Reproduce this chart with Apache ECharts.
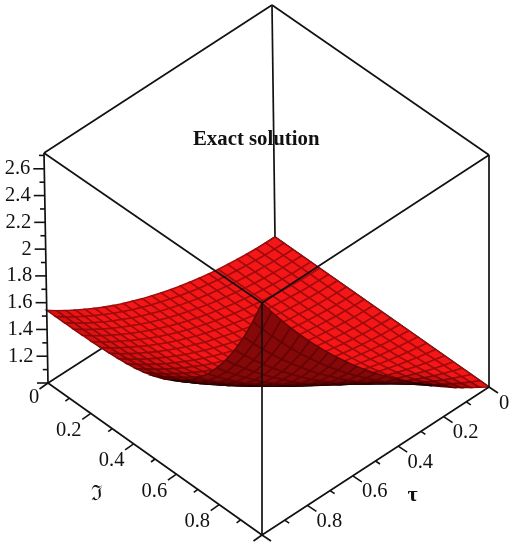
<!DOCTYPE html>
<html>
<head>
<meta charset="utf-8">
<title>Exact solution</title>
<script src="https://cdn.jsdelivr.net/npm/echarts@6/dist/echarts.min.js"></script>
<style>
  html, body { margin: 0; padding: 0; background: #fff; }
  #main { width: 518px; height: 550px; filter: blur(0.4px); }
</style>
</head>
<body>
<div id="main"></div>
<script>
// values, rows go along the frak I axis, columns along tau
const gridSteps = 24
const surfaceZ = [
  [1.000,1.001,1.003,1.008,1.014,1.022,1.031,1.043,1.056,1.071,1.088,1.107,1.128,1.151,1.175,1.202,1.230,1.261,1.295,1.330,1.368,1.408,1.450,1.495,1.543],
  [1.000,1.001,1.003,1.008,1.014,1.022,1.031,1.043,1.056,1.071,1.088,1.107,1.128,1.151,1.175,1.202,1.230,1.261,1.295,1.330,1.368,1.408,1.450,1.495,1.543],
  [1.000,1.001,1.003,1.008,1.014,1.022,1.031,1.043,1.056,1.071,1.088,1.107,1.128,1.151,1.175,1.202,1.230,1.261,1.295,1.330,1.368,1.408,1.450,1.495,1.543],
  [1.000,1.001,1.003,1.008,1.014,1.022,1.031,1.043,1.056,1.071,1.088,1.107,1.128,1.151,1.175,1.202,1.230,1.261,1.295,1.330,1.368,1.408,1.450,1.495,1.543],
  [1.000,1.001,1.003,1.008,1.014,1.022,1.031,1.043,1.056,1.071,1.088,1.107,1.128,1.151,1.175,1.203,1.231,1.262,1.296,1.331,1.369,1.409,1.451,1.496,1.544],
  [1.000,1.001,1.003,1.008,1.014,1.022,1.031,1.044,1.057,1.072,1.089,1.108,1.129,1.152,1.176,1.203,1.231,1.262,1.297,1.332,1.370,1.410,1.452,1.497,1.545],
  [1.000,1.001,1.003,1.008,1.015,1.023,1.032,1.044,1.057,1.072,1.090,1.109,1.130,1.153,1.177,1.205,1.233,1.264,1.298,1.333,1.372,1.412,1.454,1.499,1.548],
  [1.000,1.001,1.004,1.009,1.015,1.024,1.033,1.045,1.058,1.074,1.091,1.110,1.132,1.155,1.179,1.207,1.235,1.267,1.301,1.336,1.375,1.415,1.458,1.503,1.552],
  [1.000,1.002,1.004,1.010,1.016,1.025,1.034,1.047,1.060,1.076,1.093,1.113,1.134,1.158,1.183,1.210,1.239,1.271,1.305,1.341,1.380,1.420,1.463,1.509,1.558],
  [1.000,1.002,1.005,1.010,1.017,1.026,1.036,1.049,1.063,1.079,1.096,1.116,1.138,1.162,1.187,1.215,1.244,1.276,1.311,1.347,1.386,1.428,1.471,1.517,1.566],
  [1.000,1.002,1.006,1.012,1.019,1.028,1.039,1.052,1.066,1.083,1.101,1.121,1.144,1.168,1.194,1.222,1.252,1.284,1.320,1.356,1.396,1.438,1.482,1.529,1.578],
  [1.000,1.003,1.007,1.014,1.021,1.031,1.042,1.056,1.071,1.088,1.107,1.128,1.151,1.176,1.202,1.231,1.262,1.295,1.331,1.369,1.409,1.452,1.496,1.544,1.595],
  [1.000,1.004,1.008,1.016,1.025,1.035,1.047,1.062,1.077,1.095,1.115,1.137,1.161,1.187,1.214,1.244,1.275,1.309,1.346,1.385,1.426,1.470,1.516,1.565,1.617],
  [1.000,1.005,1.010,1.019,1.028,1.040,1.053,1.069,1.085,1.104,1.125,1.148,1.173,1.200,1.228,1.259,1.292,1.327,1.366,1.405,1.448,1.493,1.540,1.591,1.644],
  [1.000,1.006,1.013,1.022,1.033,1.046,1.060,1.077,1.095,1.115,1.138,1.162,1.188,1.217,1.246,1.279,1.313,1.350,1.390,1.432,1.476,1.523,1.572,1.624,1.679],
  [1.000,1.007,1.016,1.027,1.040,1.054,1.070,1.088,1.108,1.130,1.153,1.179,1.208,1.238,1.269,1.304,1.339,1.378,1.420,1.464,1.510,1.559,1.610,1.665,1.722],
  [1.000,1.009,1.020,1.033,1.047,1.063,1.081,1.101,1.123,1.147,1.173,1.201,1.231,1.263,1.297,1.334,1.372,1.413,1.457,1.503,1.552,1.604,1.658,1.715,1.775],
  [1.000,1.012,1.024,1.040,1.056,1.075,1.095,1.118,1.142,1.168,1.196,1.227,1.259,1.294,1.330,1.370,1.411,1.455,1.502,1.551,1.603,1.658,1.715,1.775,1.839],
  [1.000,1.014,1.029,1.048,1.067,1.088,1.111,1.137,1.163,1.193,1.224,1.257,1.293,1.331,1.370,1.413,1.457,1.504,1.555,1.607,1.663,1.722,1.782,1.847,1.915],
  [1.000,1.017,1.036,1.057,1.080,1.104,1.130,1.159,1.189,1.222,1.257,1.293,1.333,1.374,1.417,1.464,1.512,1.563,1.618,1.675,1.735,1.797,1.863,1.932,2.005],
  [1.000,1.021,1.043,1.068,1.095,1.123,1.153,1.186,1.220,1.256,1.295,1.336,1.379,1.425,1.473,1.523,1.576,1.632,1.692,1.753,1.818,1.886,1.957,2.031,2.110],
  [1.000,1.025,1.052,1.081,1.112,1.145,1.179,1.216,1.255,1.296,1.339,1.385,1.434,1.484,1.537,1.593,1.650,1.712,1.777,1.844,1.915,1.989,2.066,2.147,2.232],
  [1.000,1.030,1.062,1.096,1.132,1.170,1.209,1.252,1.296,1.342,1.391,1.442,1.496,1.552,1.611,1.673,1.736,1.804,1.876,1.949,2.027,2.108,2.192,2.280,2.373],
  [1.000,1.036,1.073,1.114,1.155,1.199,1.244,1.293,1.342,1.395,1.450,1.507,1.568,1.631,1.695,1.764,1.835,1.910,1.989,2.070,2.155,2.244,2.336,2.433,2.534],
  [1.000,1.043,1.087,1.133,1.181,1.232,1.284,1.339,1.396,1.455,1.517,1.582,1.649,1.719,1.792,1.868,1.948,2.031,2.117,2.207,2.301,2.399,2.501,2.607,2.718]
]

const zRange = [1, 2.718]
const zMajor = [1, 1.2, 1.4, 1.6, 1.8, 2, 2.2, 2.4, 2.6]
const zMinor = [1.1, 1.3, 1.5, 1.7, 1.9, 2.1, 2.3, 2.5, 2.7]
const floorMajor = [0, 0.2, 0.4, 0.6, 0.8, 1]
const floorMinor = [0.1, 0.3, 0.5, 0.7, 0.9]
const zLabelled = ['', '1.2', '1.4', '1.6', '1.8', '2', '2.2', '2.4', '2.6']
const floorLabelled = ['0', '0.2', '0.4', '0.6', '0.8', '']

// where the box corners land on the page [bottom, top], index is [frak I][tau]
const boxCorners = [
  [[[275, 237], [272, 5]], [[48, 383], [44, 153]]],
  [[[489, 387], [489, 155]], [[262, 535], [262, 303]]]
]

function lerp(a, b, f) {
  return a + (b - a) * f
}

function project(s, t, z) {
  const f = (z - zRange[0]) / (zRange[1] - zRange[0])
  const out = []
  for (let k = 0; k < 2; k++) {
    const at = level => lerp(
      lerp(boxCorners[0][0][level][k], boxCorners[0][1][level][k], t),
      lerp(boxCorners[1][0][level][k], boxCorners[1][1][level][k], t),
      s
    )
    out.push(lerp(at(0), at(1), f))
  }
  return out
}

function signedArea(p) {
  let a = 0
  for (let i = 0; i < p.length; i++) {
    const q = p[(i + 1) % p.length]
    a += p[i][0] * q[1] - q[0] * p[i][1]
  }
  return a / 2
}

function mixColor(c0, c1, f) {
  f = Math.max(0, Math.min(1, f))
  const c = c0.map((v, i) => Math.round(lerp(v, c1[i], f)))
  return 'rgb(' + c.join(',') + ')'
}

// back to front, so nearer cells paint over
const cellData = []
for (let sum = 0; sum <= 2 * (gridSteps - 1); sum++) {
  for (let i = 0; i < gridSteps; i++) {
    const j = sum - i
    if (j >= 0 && j < gridSteps) cellData.push([i, j])
  }
}

function renderCell(params, api) {
  const i = api.value(0)
  const j = api.value(1)
  const s0 = i / gridSteps
  const s1 = (i + 1) / gridSteps
  const t0 = j / gridSteps
  const t1 = (j + 1) / gridSteps
  const pts = [
    project(s0, t0, surfaceZ[i][j]),
    project(s1, t0, surfaceZ[i + 1][j]),
    project(s1, t1, surfaceZ[i + 1][j + 1]),
    project(s0, t1, surfaceZ[i][j + 1])
  ]
  const flat = [
    project(s0, t0, zRange[0]),
    project(s1, t0, zRange[0]),
    project(s1, t1, zRange[0]),
    project(s0, t1, zRange[0])
  ]
  const ratio = signedArea(pts) / signedArea(flat)
  // negative ratio means we look at the underside
  const fill = ratio > 0
    ? mixColor([120, 2, 2], [245, 22, 24], (ratio - 0.14) / 0.46)
    : mixColor([30, 0, 0], [135, 8, 8], -ratio / 0.45)
  const line = ratio > 0
    ? mixColor([80, 0, 0], [160, 12, 12], (ratio - 0.14) / 0.46)
    : mixColor([20, 0, 0], [100, 5, 5], -ratio / 0.45)
  return {
    type: 'polygon',
    shape: { points: pts.map(p => api.coord(p)) },
    style: { fill: fill, stroke: line, lineWidth: 1.5 }
  }
}

function seg(a, b, api) {
  const p = api.coord(project(a[0], a[1], a[2]))
  const q = api.coord(project(b[0], b[1], b[2]))
  return {
    type: 'line',
    shape: { x1: p[0], y1: p[1], x2: q[0], y2: q[1] },
    style: { stroke: '#111', lineWidth: 1.7 }
  }
}

const zLo = zRange[0]
const zHi = zRange[1]
const backEdges = [
  [[0, 1, zLo], [0, 0, zLo]],
  [[0, 0, zLo], [1, 0, zLo]],
  [[0, 0, zLo], [0, 0, zHi]],
  [[0, 1, zHi], [0, 0, zHi]],
  [[0, 0, zHi], [1, 0, zHi]]
]
const frontEdges = [
  [[0, 1, zLo], [0, 1, zHi]],
  [[1, 0, zLo], [1, 0, zHi]],
  [[1, 1, zLo], [1, 1, zHi]],
  [[0, 1, zLo], [1, 1, zLo]],
  [[1, 0, zLo], [1, 1, zLo]],
  [[0, 1, zHi], [1, 1, zHi]],
  [[1, 0, zHi], [1, 1, zHi]]
]

function tickLine(p, dx, dy, api) {
  const a = api.coord(p)
  return {
    type: 'line',
    shape: { x1: a[0], y1: a[1], x2: a[0] + dx, y2: a[1] + dy },
    style: { stroke: '#111', lineWidth: 1.6 }
  }
}

function tickText(p, dx, dy, text, api, font, align) {
  const a = api.coord(p)
  return {
    type: 'text',
    style: {
      x: a[0] + dx,
      y: a[1] + dy,
      text: text,
      font: font || '20.5px "Liberation Serif"',
      fill: '#111',
      textAlign: align || 'center',
      textVerticalAlign: 'middle'
    }
  }
}

function renderFrame(edges) {
  return function (params, api) {
    return { type: 'group', children: edges.map(e => seg(e[0], e[1], api)) }
  }
}

function renderTicks(params, api) {
  const kids = []
  zMajor.forEach((v, i) => {
    const p = project(0, 1, v)
    kids.push(tickLine(p, -11, 0, api))
    if (zLabelled[i]) kids.push(tickText(p, -14, 0, zLabelled[i], api, null, 'right'))
  })
  zMinor.forEach(v => kids.push(tickLine(project(0, 1, v), -5, 0, api)))
  floorMajor.forEach((v, i) => {
    const a = project(v, 1, zLo)
    const b = project(1, v, zLo)
    kids.push(tickLine(a, -8.5, 6, api))
    kids.push(tickLine(b, 9, 6, api))
    if (floorLabelled[i]) {
      const wide = floorLabelled[i].length > 1
      kids.push(tickText(a, wide ? -22 : -14, wide ? 17 : 15, floorLabelled[i], api))
      kids.push(tickText(b, wide ? 22 : 15, wide ? 16 : 17, floorLabelled[i], api))
    }
  })
  floorMinor.forEach(v => {
    kids.push(tickLine(project(v, 1, zLo), -4, 3, api))
    kids.push(tickLine(project(1, v, zLo), 4.5, 3, api))
  })
  kids.push(tickText(project(0.5, 1, zLo), -58, 36, '\u2111', api, '21px "DejaVu Serif"'))
  kids.push(tickText(project(1, 0.5, zLo), 37, 34, '\u03c4', api, 'bold 22px "Liberation Serif"'))
  return { type: 'group', children: kids }
}

function customSeries(name, z, data, renderItem) {
  return {
    name: name,
    type: 'custom',
    coordinateSystem: 'cartesian2d',
    z: z,
    silent: true,
    clip: false,
    animation: false,
    data: data,
    renderItem: renderItem
  }
}

const chart = echarts.init(document.getElementById('main'), null, { renderer: 'canvas' })
chart.setOption({
  backgroundColor: '#fff',
  animation: false,
  title: {
    text: 'Exact solution',
    left: 193,
    top: 129,
    padding: 0,
    textStyle: { fontFamily: 'Liberation Serif', fontWeight: 'bold', fontSize: 20.8, color: '#111' }
  },
  grid: { left: 0, right: 0, top: 0, bottom: 0 },
  xAxis: { type: 'value', min: 0, max: 518, show: false },
  yAxis: { type: 'value', min: 0, max: 550, inverse: true, show: false },
  series: [
    customSeries('back', 1, [[0, 0]], renderFrame(backEdges)),
    customSeries('surface', 2, cellData, renderCell),
    customSeries('front', 3, [[0, 0]], renderFrame(frontEdges)),
    customSeries('ticks', 4, [[0, 0]], renderTicks)
  ]
})
</script>
</body>
</html>
